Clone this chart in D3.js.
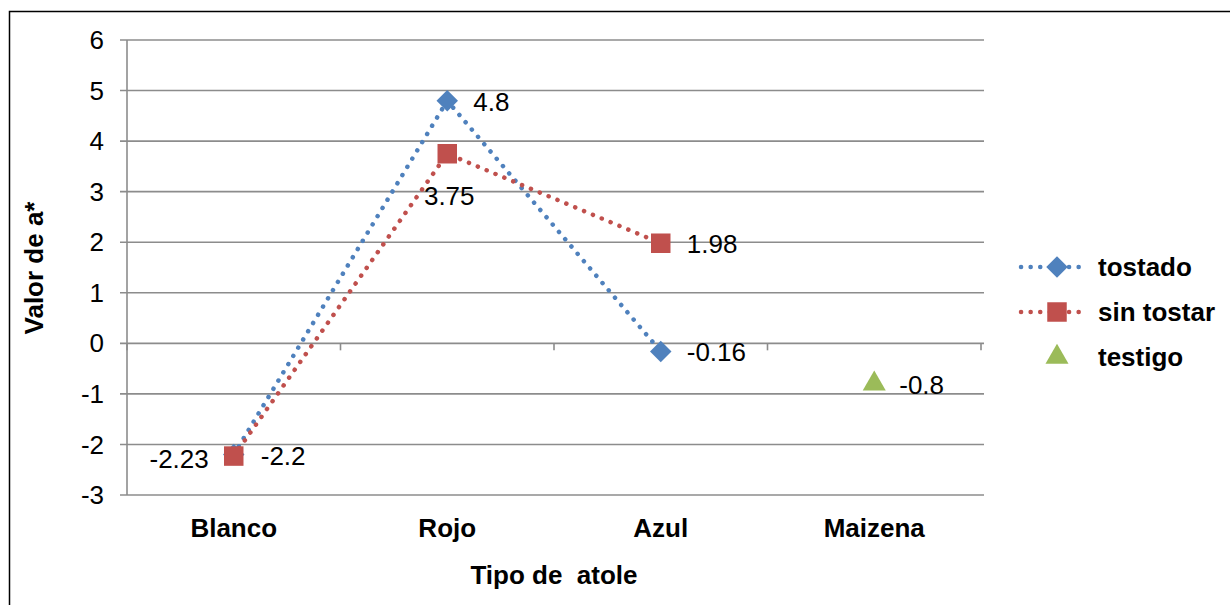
<!DOCTYPE html>
<html>
<head>
<meta charset="utf-8">
<script src="https://cdn.jsdelivr.net/npm/d3@7.9.0/dist/d3.min.js"></script>
<style>
  body { margin: 0; background: #fff; }
  svg { font-family: "Liberation Sans", Arial, sans-serif; }
</style>
</head>
<body>
<svg id="chart" width="1230" height="605"></svg>
<script>
// chart data
const categories = ['Blanco', 'Rojo', 'Azul', 'Maizena'];
const tostado = [-2.2, 4.8, -0.16, null];
const sinTostar = [-2.23, 3.75, 1.98, null];
const testigo = [null, null, null, -0.8];
const yTicks = [-3, -2, -1, 0, 1, 2, 3, 4, 5, 6];

const svg = d3.select('#chart');

// outer frame
svg.append('rect')
  .attr('x', 9.5).attr('y', 11.5)
  .attr('width', 1240).attr('height', 620)
  .attr('fill', 'none').attr('stroke', '#000').attr('stroke-width', 1.5);

const x = d3.scaleBand().domain(categories).range([127, 981]);
const y = d3.scaleLinear().domain([-3, 6]).range([495, 40]);
const cx = (c) => x(c) + x.bandwidth() / 2;

// gridlines
svg.append('g').selectAll('line')
  .data(yTicks)
  .join('line')
  .attr('x1', 120).attr('x2', 984)
  .attr('y1', (d) => y(d)).attr('y2', (d) => y(d))
  .attr('stroke', '#8c8c8c').attr('stroke-width', 1.6);

// y axis line
svg.append('line')
  .attr('x1', 127).attr('x2', 127)
  .attr('y1', y(6)).attr('y2', y(-3))
  .attr('stroke', '#8c8c8c').attr('stroke-width', 1.6);

// x axis ticks at zero line
svg.append('g').selectAll('line')
  .data(d3.range(categories.length + 1))
  .join('line')
  .attr('x1', (i) => 127 + i * x.bandwidth())
  .attr('x2', (i) => 127 + i * x.bandwidth())
  .attr('y1', y(0)).attr('y2', y(0) + 7)
  .attr('stroke', '#8c8c8c').attr('stroke-width', 1.6);

// y tick labels
svg.append('g').selectAll('text')
  .data(yTicks)
  .join('text')
  .attr('x', 104).attr('y', (d) => y(d))
  .attr('dy', '0.35em')
  .attr('text-anchor', 'end')
  .attr('font-size', 26)
  .text((d) => d);

// category labels
svg.append('g').selectAll('text')
  .data(categories)
  .join('text')
  .attr('x', (d) => cx(d)).attr('y', 537)
  .attr('text-anchor', 'middle')
  .attr('font-size', 26).attr('font-weight', 'bold')
  .text((d) => d);

// axis titles
svg.append('text')
  .attr('x', 554).attr('y', 584)
  .attr('text-anchor', 'middle')
  .attr('font-size', 26).attr('font-weight', 'bold')
  .style('white-space', 'pre')
  .text('Tipo de  atole');

svg.append('text')
  .attr('transform', `translate(43,268) rotate(-90)`)
  .attr('text-anchor', 'middle')
  .attr('font-size', 26).attr('font-weight', 'bold')
  .text('Valor de a*');

// series lines
const line = d3.line()
  .defined((d) => d.v !== null)
  .x((d) => cx(d.c))
  .y((d) => y(d.v));

const toPts = (arr) => arr.map((v, i) => ({ c: categories[i], v }));

const seriesList = [
  { name: 'tostado', values: tostado, color: '#4f81bd', symbol: d3.symbolSquare, size: 230, rot: 45, line: true },
  { name: 'sin tostar', values: sinTostar, color: '#c0504d', symbol: d3.symbolSquare, size: 380, rot: 0, line: true },
  { name: 'testigo', values: testigo, color: '#9bbb59', symbol: d3.symbolTriangle, size: 230, rot: 0, line: false }
];

seriesList.forEach((s) => {
  if (s.line) {
    svg.append('path')
      .attr('d', line(toPts(s.values)))
      .attr('fill', 'none')
      .attr('stroke', s.color)
      .attr('stroke-width', 4.5)
      .attr('stroke-linecap', 'round')
      .attr('stroke-dasharray', '0.1 9.5');
  }
});

seriesList.forEach((s) => {
  svg.append('g').selectAll('path')
    .data(toPts(s.values).filter((d) => d.v !== null))
    .join('path')
    .attr('transform', (d) => `translate(${cx(d.c)},${y(d.v)}) rotate(${s.rot})`)
    .attr('d', d3.symbol().type(s.symbol).size(s.size))
    .attr('fill', s.color);
});

// data labels
const labels = [
  { c: 'Blanco', v: -2.2, text: '-2.2', dx: 27, dy: 10, anchor: 'start' },
  { c: 'Rojo', v: 4.8, text: '4.8', dx: 26, dy: 10, anchor: 'start' },
  { c: 'Azul', v: -0.16, text: '-0.16', dx: 26, dy: 10, anchor: 'start' },
  { c: 'Blanco', v: -2.23, text: '-2.23', dx: -25, dy: 12, anchor: 'end' },
  { c: 'Rojo', v: 3.75, text: '3.75', dx: 2, dy: 51, anchor: 'middle' },
  { c: 'Azul', v: 1.98, text: '1.98', dx: 26, dy: 10, anchor: 'start' },
  { c: 'Maizena', v: -0.8, text: '-0.8', dx: 25, dy: 10, anchor: 'start' }
];
svg.append('g').selectAll('text')
  .data(labels)
  .join('text')
  .attr('x', (d) => cx(d.c) + d.dx)
  .attr('y', (d) => y(d.v) + d.dy)
  .attr('text-anchor', (d) => d.anchor)
  .attr('font-size', 26)
  .text((d) => d.text);

// legend
const legend = svg.append('g');
seriesList.forEach((s, i) => {
  const ly = 267 + i * 45;
  if (s.line) {
    legend.append('line')
      .attr('x1', 1021).attr('x2', 1084)
      .attr('y1', ly).attr('y2', ly)
      .attr('stroke', s.color).attr('stroke-width', 4.5)
      .attr('stroke-linecap', 'round')
      .attr('stroke-dasharray', '0.1 9.5');
  }
  legend.append('path')
    .attr('transform', `translate(1057,${ly}) rotate(${s.rot})`)
    .attr('d', d3.symbol().type(s.symbol).size(s.size))
    .attr('fill', s.color);
  legend.append('text')
    .attr('x', 1098).attr('y', ly)
    .attr('dy', '0.35em')
    .attr('font-size', 26).attr('font-weight', 'bold')
    .text(s.name);
});
</script>
</body>
</html>
